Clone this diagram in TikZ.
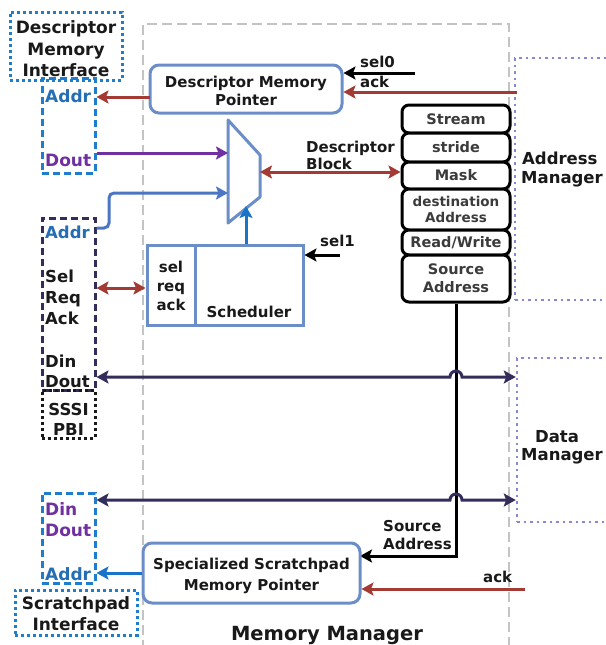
\documentclass[tikz,border=0pt]{standalone}
\usepackage{fontspec}
\setmainfont{DejaVu Sans}
\usetikzlibrary{arrows.meta}
\definecolor{brn}{RGB}{163,58,52}
\definecolor{bbox}{RGB}{108,142,200}
\definecolor{bblue}{RGB}{25,115,200}
\definecolor{lblue}{RGB}{75,118,195}
\definecolor{purp}{RGB}{112,48,160}
\definecolor{navy}{RGB}{50,45,90}
\definecolor{tblue}{RGB}{35,110,180}
\definecolor{mgray}{RGB}{195,195,195}
\definecolor{lav}{RGB}{135,135,215}
\definecolor{dotblue}{RGB}{30,125,205}
\definecolor{ink}{RGB}{25,25,25}
\tikzset{
  tip/.style={-{Stealth[length=12pt,width=13pt,inset=2.5pt]}},
  dtip/.style={{Stealth[length=12pt,width=13pt,inset=2.5pt]}-{Stealth[length=12pt,width=13pt,inset=2.5pt]}},
  wire/.style={line width=3pt},
  f15/.style={font=\bfseries\fontsize{15}{18}\selectfont, inner sep=0pt, text=ink},
  f16/.style={font=\bfseries\fontsize{16.5}{20}\selectfont, inner sep=0pt, text=ink},
  f17/.style={font=\bfseries\fontsize{17}{21}\selectfont, inner sep=0pt, text=ink},
  f19/.style={font=\bfseries\fontsize{19.5}{23}\selectfont, inner sep=0pt, text=ink},
  rbox/.style={draw=bbox, line width=3pt, rounded corners=9pt, fill=white, inner sep=0pt},
  sbox/.style={draw=bbox, line width=3pt, fill=white, inner sep=0pt},
  row/.style={draw=black, line width=3pt, rounded corners=7pt, fill=white, minimum width=108pt, inner sep=0pt, font=\bfseries\fontsize{14.5}{16.5}\selectfont, text=ink!85, align=center},
  port/.style={line width=3pt, minimum width=53pt, inner sep=0pt, dash pattern=on 7pt off 4pt},
  iface/.style={draw=dotblue, line width=3pt, inner sep=0pt, dash pattern=on 3pt off 3pt},
  mgr/.style={draw=lav, line width=2.5pt, inner sep=0pt, dash pattern=on 2.5pt off 4pt, minimum width=100pt},
}
\begin{document}
\begin{tikzpicture}[x=1pt,y=-1pt]
\useasboundingbox[fill=white] (0,0) rectangle (605,645);

% Memory manager region
\draw[mgray, line width=2.5pt, dash pattern=on 10pt off 5pt] (143,650) -- (143,24) -- (509,24) -- (509,650);
\node[f19, anchor=base] (mmlbl) at (327,640) {Memory Manager};

% Address / Data managers
\node[mgr, minimum height=242pt] (amgr) at (565,179) {};
\node[f16, anchor=base west] (am1) at (522,164) {Address};
\node[f16, anchor=base west] (am2) at (521,183) {Manager};
\node[mgr, minimum height=164pt] (dmgr) at (567,440) {};
\node[f16, anchor=base] (dm1) at (557,442) {Data};
\node[f16, anchor=base west] (dm2) at (521,460) {Manager};

% Descriptor memory interface
\node[iface, minimum width=112pt, minimum height=68pt] (dmi) at (66,46) {};
\node[f17, anchor=base] (dmi1) at (66,33) {Descriptor};
\node[f17, anchor=base] (dmi2) at (66,55) {Memory};
\node[f17, anchor=base] (dmi3) at (66,76) {Interface};

% port box 1
\node[port, draw=dotblue, minimum height=95pt] (pb1) at (68.5,125.5) {};
\node[f17, anchor=base west, text=tblue] (p1a) at (45,102) {Addr};
\node[f17, anchor=base west, text=purp] (p1d) at (45,166) {Dout};

% port box 2
\node[port, draw=navy, minimum height=172pt] (pb2) at (68.5,304) {};
\node[f16, anchor=base west, text=tblue] (p2a) at (45,238) {Addr};
\node[f16, anchor=base west] (p2s) at (45,282) {Sel};
\node[f16, anchor=base west] (p2r) at (45,303) {Req};
\node[f16, anchor=base west] (p2k) at (45,324) {Ack};
\node[f16, anchor=base west] (p2i) at (45,367) {Din};
\node[f16, anchor=base west] (p2o) at (45,387) {Dout};
\node[draw=ink, line width=3pt, dash pattern=on 3pt off 3pt, minimum width=53pt, minimum height=48pt, inner sep=0pt] (pbi) at (68.5,414) {};
\node[f16, anchor=base] (pbi1) at (68.5,415) {SSSI};
\node[f16, anchor=base] (pbi2) at (68.5,435) {PBI};

% port box 3
\node[port, draw=dotblue, minimum height=90pt] (pb3) at (68.5,538) {};
\node[f17, anchor=base west, text=purp] (p3i) at (45,515) {Din};
\node[f17, anchor=base west, text=purp] (p3o) at (45,536) {Dout};
\node[f17, anchor=base west, text=tblue] (p3a) at (45,580) {Addr};
\node[iface, minimum width=122pt, minimum height=45pt] (spi) at (76,612.5) {};
\node[f17, anchor=base] (spi1) at (76,609) {Scratchpad};
\node[f17, anchor=base] (spi2) at (76,630) {Interface};

% coordinates
\coordinate (dmpA) at (150,97);
\coordinate (muxA) at (228,153);
\coordinate (muxB) at (228,193);
\coordinate (muxO) at (260,172);
\coordinate (muxS) at (246,206);
\coordinate (s0) at (415,73);
\coordinate (ackT) at (517,92);
\coordinate (s1) at (340,255);
\coordinate (ackB) at (525,589);
\coordinate (a2) at (109,228);

% Descriptor memory pointer
\node[rbox, minimum width=192pt, minimum height=48pt] (dmp) at (246,89) {};
\node[f15, anchor=base] (dmpt1) at (246,87) {Descriptor Memory};
\node[f15, anchor=base] (dmpt2) at (246,105) {Pointer};
\node[f15, anchor=base west] (sel0) at (360,67) {sel0};
\node[f15, anchor=base west] (ackt) at (360,87) {ack};
\draw[wire, black, tip] (s0) -- (dmp.east |- s0);
\draw[wire, brn, tip] (ackT) -- (dmp.east |- ackT);
\draw[wire, brn, tip] (dmpA) -- (pb1.east |- dmpA);

% Stack of descriptor fields
\node[row, minimum height=28pt] (stream) at (456,119) {Stream};
\node[row, minimum height=29pt] (stride) at (456,147.5) {stride};
\node[row, minimum height=27pt] (mask) at (456,175.5) {Mask};
\node[row, minimum height=41pt, font=\bfseries\fontsize{13.5}{16}\selectfont] (dest) at (456,209.5) {destination\\Address};
\node[row, minimum height=25pt] (rw) at (456,242.5) {Read/Write};
\node[row, minimum height=47pt, font=\bfseries\fontsize{14.5}{18}\selectfont] (sa) at (456,278.5) {Source\\Address};

% Mux
\draw[bbox, line width=3pt, fill=white, line join=round] (228,120) -- (260,155) -- (260,197) -- (228,223) -- cycle;
\draw[wire, purp, tip] (pb1.east |- muxA) -- (muxA);
\draw[wire, lblue, tip, rounded corners=5pt] (pb2.east |- a2) -- (a2) -- (a2 |- muxB) -- (muxB);
\draw[wire, brn, dtip] (muxO) -- (mask.west |- muxO);
\node[f15, anchor=base west] (db1) at (306,152) {Descriptor};
\node[f15, anchor=base west] (db2) at (306,169) {Block};

% Scheduler
\node[sbox, minimum width=108pt, minimum height=80pt] (sched) at (249,285) {};
\node[sbox, minimum width=48pt, minimum height=80pt] (selb) at (171,285) {};
\node[f15, anchor=base] (sb1) at (171,272) {sel};
\node[f15, anchor=base] (sb2) at (171,291) {req};
\node[f15, anchor=base] (sb3) at (171,310) {ack};
\node[f15, anchor=base] (scht) at (249,317) {Scheduler};
\draw[wire, bblue, tip] (muxS |- sched.north) -- (muxS);
\draw[wire, black, tip] (s1) -- (sched.east |- s1);
\node[f15, anchor=base west] (sel1) at (320,246) {sel1};
\draw[wire, brn, dtip] (pb2.east |- 0,288) -- (selb.west |- 0,288);

% Source address path
\coordinate (j1) at (sa.south |- 0,377);
\coordinate (j2) at (sa.south |- 0,500);
\draw[wire, black, tip] (sa.south) -- (sa.south |- 0,556) -- (360,556);
\node[f15, anchor=base west] (sat1) at (383,531) {Source};
\node[f15, anchor=base west] (sat2) at (383,549) {Address};

% Data buses
\draw[wire, navy, dtip] (pb2.east |- j1) -- ([xshift=-6pt]j1) arc[start angle=180, end angle=360, radius=6] -- (dmgr.west |- j1);
\draw[wire, navy, dtip] (pb3.east |- j2) -- ([xshift=-6pt]j2) arc[start angle=180, end angle=360, radius=6] -- (dmgr.west |- j2);

% Specialized scratchpad memory pointer
\node[rbox, minimum width=217pt, minimum height=60pt] (ssmp) at (251.5,573) {};
\node[f15, anchor=base] (ss1) at (251.5,569) {Specialized Scratchpad};
\node[f15, anchor=base] (ss2) at (251.5,590) {Memory Pointer};
\draw[wire, brn, tip] (ackB) -- (ssmp.east |- ackB);
\node[f15, anchor=base west] (ackbt) at (483,582) {ack};
\draw[wire, bblue, tip] (ssmp.west |- 0,573) -- (pb3.east |- 0,573);
\end{tikzpicture}
\end{document}
